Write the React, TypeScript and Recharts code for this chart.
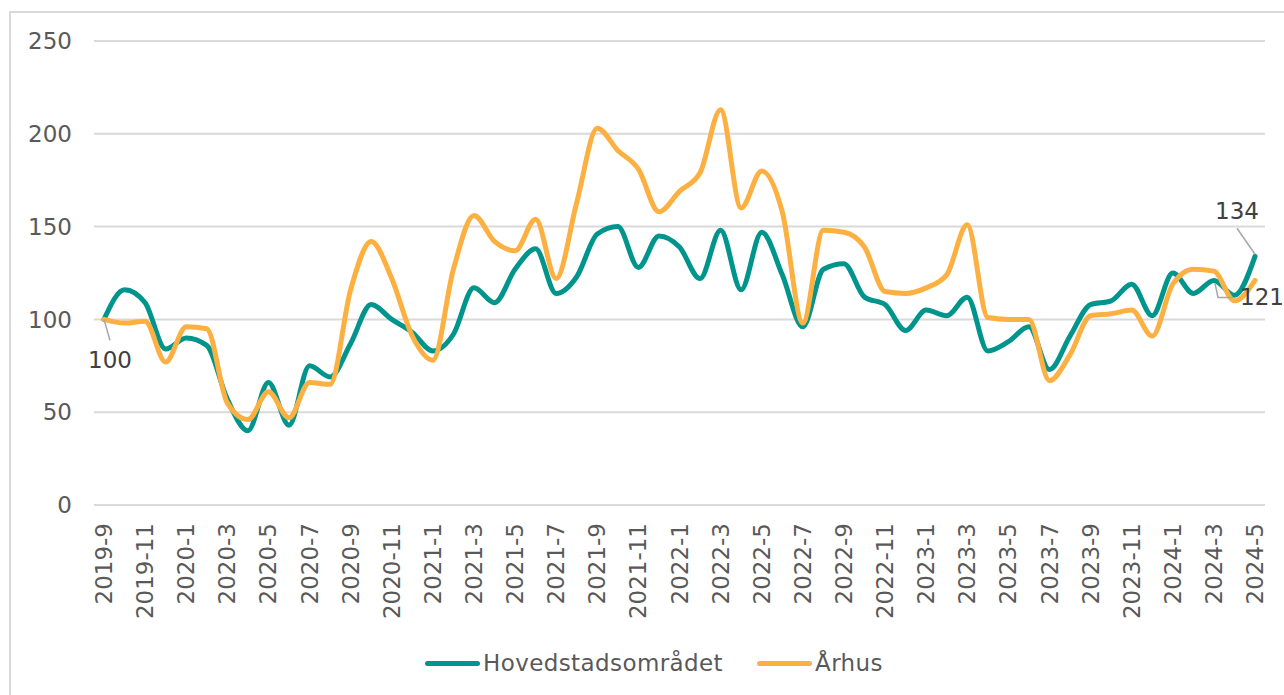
import { LineChart, Line, XAxis, YAxis, CartesianGrid, LabelList } from "recharts";

const months = [
  "2019-9", "2019-10", "2019-11", "2019-12",
  "2020-1", "2020-2", "2020-3", "2020-4", "2020-5", "2020-6", "2020-7", "2020-8", "2020-9", "2020-10", "2020-11", "2020-12",
  "2021-1", "2021-2", "2021-3", "2021-4", "2021-5", "2021-6", "2021-7", "2021-8", "2021-9", "2021-10", "2021-11", "2021-12",
  "2022-1", "2022-2", "2022-3", "2022-4", "2022-5", "2022-6", "2022-7", "2022-8", "2022-9", "2022-10", "2022-11", "2022-12",
  "2023-1", "2023-2", "2023-3", "2023-4", "2023-5", "2023-6", "2023-7", "2023-8", "2023-9", "2023-10", "2023-11", "2023-12",
  "2024-1", "2024-2", "2024-3", "2024-4", "2024-5",
];

const hovedstaden = [
  100, 116, 109, 84, 90, 86, 57, 40, 66, 43, 75, 69, 87, 108, 100, 93,
  83, 92, 117, 109, 127, 138, 114, 123, 146, 150, 128, 145, 139, 122, 148, 116,
  147, 124, 96, 127, 130, 112, 108, 94, 105, 102, 112, 83, 88, 96, 73, 91,
  108, 110, 119, 102, 125, 114, 121, 113, 134,
];

const aarhus = [
  100, 98, 99, 77, 96, 95, 55, 46, 61, 47, 66, 65, 116, 142, 122, 91,
  78, 127, 156, 142, 137, 154, 122, 163, 203, 191, 181, 158, 169, 179, 213, 160,
  180, 158, 98, 148, 147, 139, 115, 114, 117, 124, 151, 101, 100, 100, 67, 81,
  102, 103, 105, 91, 119, 127, 126, 110, 121,
];

const yTicks = [0, 50, 100, 150, 200, 250];

const TEAL = "#00958C";
const ORANGE = "#FDB042";
const TEXT = "#595959";
const LABEL = "#404040";
const LEADER = "#a6a6a6";
const FONT = "'DejaVu Sans', Verdana, sans-serif";

const data = months.map((m, i) => ({ month: m, hov: hovedstaden[i], aar: aarhus[i] }));
const last = months.length - 1;

function MonthTick(props: any) {
  const { x, y, payload } = props;
  return (
    <text
      x={x}
      y={y}
      dy="0.35em"
      transform={`rotate(-90, ${x}, ${y})`}
      textAnchor="end"
      fill={TEXT}
      fontSize={23}
      fontFamily={FONT}
    >
      {payload.value}
    </text>
  );
}

function HovLabel(props: any) {
  const { x, y, index, value } = props;
  if (index === 0) {
    return (
      <g>
        <line x1={x} y1={y} x2={x + 6} y2={y + 21} stroke={LEADER} strokeWidth={1.5} />
        <text x={x + 6} y={y + 49} textAnchor="middle" fill={LABEL} fontSize={23} fontFamily={FONT}>
          {value}
        </text>
      </g>
    );
  }
  if (index === last) {
    return (
      <g>
        <line x1={x} y1={y - 2} x2={x - 18} y2={y - 28} stroke={LEADER} strokeWidth={1.5} />
        <text x={x - 18} y={y - 37} textAnchor="middle" fill={LABEL} fontSize={23} fontFamily={FONT}>
          {value}
        </text>
      </g>
    );
  }
  return null;
}

function AarLabel(props: any) {
  const { x, y, index, value } = props;
  if (index !== last) return null;
  return (
    <g>
      <polyline
        points={`${x - 40},${y + 3} ${x - 37},${y + 17} ${x - 22},${y + 17}`}
        fill="none"
        stroke={LEADER}
        strokeWidth={1.5}
      />
      <text x={x - 15} y={y + 25} textAnchor="start" fill={LABEL} fontSize={23} fontFamily={FONT}>
        {value}
      </text>
    </g>
  );
}

export default function App() {
  return (
    <div
      style={{
        position: "absolute",
        left: 0,
        top: 0,
        width: 1284,
        height: 695,
        overflow: "hidden",
        background: "#fff",
        fontFamily: FONT,
      }}
    >
      <div
        style={{
          position: "absolute",
          left: 9,
          top: 11,
          width: 1400,
          height: 800,
          borderLeft: "2px solid #d9d9d9",
          borderTop: "2px solid #d9d9d9",
        }}
      />
      <div style={{ position: "absolute", left: 0, top: 0 }}>
        <LineChart width={1284} height={695} data={data} margin={{ top: 41, right: 19, left: 0, bottom: 0 }}>
          <CartesianGrid vertical={false} stroke="#d9d9d9" strokeWidth={2} />
          <XAxis
            dataKey="month"
            interval={1}
            height={190}
            padding={{ left: 10, right: 10 }}
            axisLine={false}
            tickLine={false}
            tickSize={6}
            tickMargin={12}
            tick={<MonthTick />}
          />
          <YAxis
            domain={[0, 250]}
            ticks={yTicks}
            width={94}
            axisLine={false}
            tickLine={false}
            tickSize={6}
            tickMargin={16}
            tick={{ fill: TEXT, fontSize: 23, fontFamily: FONT }}
          />
          <Line
            type="monotone"
            dataKey="hov"
            name="Hovedstadsområdet"
            stroke={TEAL}
            strokeWidth={5}
            strokeLinecap="round"
            strokeLinejoin="round"
            dot={false}
            activeDot={false}
            isAnimationActive={false}
          >
            <LabelList dataKey="hov" content={<HovLabel />} />
          </Line>
          <Line
            type="monotone"
            dataKey="aar"
            name="Århus"
            stroke={ORANGE}
            strokeWidth={5}
            strokeLinecap="round"
            strokeLinejoin="round"
            dot={false}
            activeDot={false}
            isAnimationActive={false}
          >
            <LabelList dataKey="aar" content={<AarLabel />} />
          </Line>
        </LineChart>
      </div>
      <div
        style={{
          position: "absolute",
          left: 425,
          top: 648,
          height: 30,
          display: "flex",
          alignItems: "center",
          fontSize: 23,
          letterSpacing: 0.4,
          color: TEXT,
          whiteSpace: "nowrap",
        }}
      >
        <div style={{ width: 55, height: 5, borderRadius: 3, background: TEAL }} />
        <span style={{ marginLeft: 3 }}>Hovedstadsområdet</span>
        <div style={{ width: 55, height: 5, borderRadius: 3, background: ORANGE, marginLeft: 34 }} />
        <span style={{ marginLeft: 3 }}>Århus</span>
      </div>
    </div>
  );
}
